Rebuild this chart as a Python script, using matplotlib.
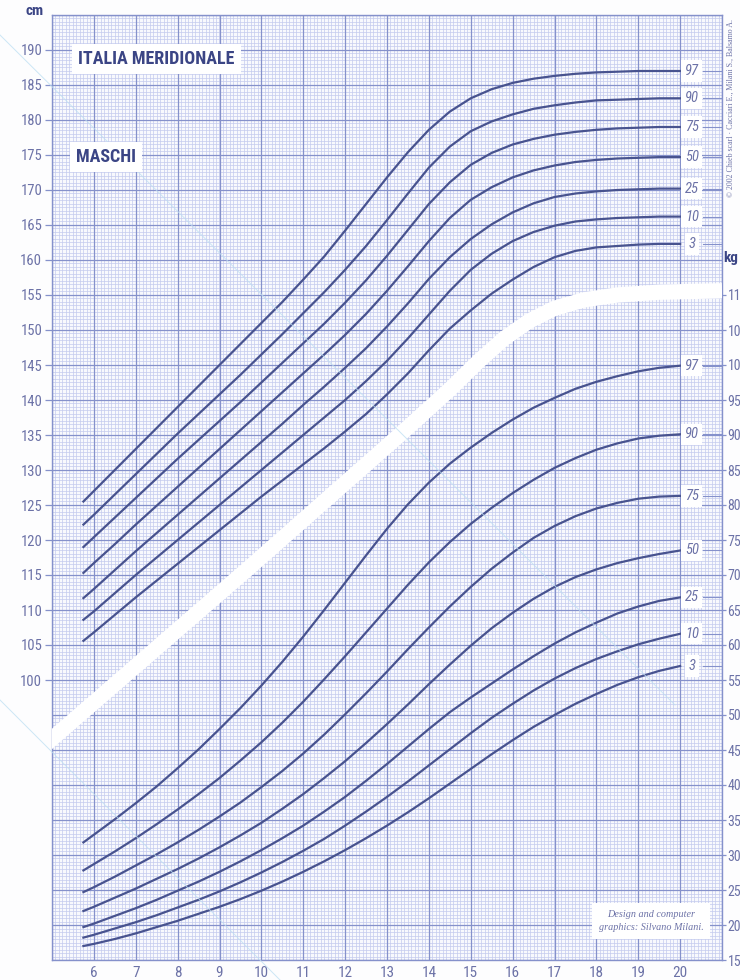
import numpy as np
import matplotlib
matplotlib.use("Agg")
import matplotlib.pyplot as plt
from matplotlib import font_manager
from matplotlib.lines import Line2D

# ages (years) at which the percentile curves are given
ages = [5.75] + [6 + 0.5 * i for i in range(29)]
percentiles = ["3", "10", "25", "50", "75", "90", "97"]

# stature, cm
height_p97 = [125.5, 127.0, 130.0, 133.0, 136.0, 139.0, 142.0, 145.0, 148.0, 151.0, 154.0, 157.2, 160.5, 164.2, 168.0,
              171.8, 175.4, 178.6, 181.2, 183.1, 184.4, 185.3, 185.9, 186.3, 186.6, 186.8, 186.9, 187.0, 187.0, 187.0]
height_p90 = [122.2, 123.6, 126.5, 129.4, 132.3, 135.2, 138.0, 140.8, 143.6, 146.5, 149.4, 152.4, 155.4, 158.6, 162.0,
              165.7, 169.5, 173.2, 176.2, 178.4, 179.8, 180.8, 181.6, 182.1, 182.5, 182.8, 182.9, 183.0, 183.1, 183.1]
height_p75 = [119.0, 120.4, 123.2, 126.0, 128.8, 131.6, 134.3, 137.0, 139.7, 142.5, 145.3, 148.1, 150.9, 153.9, 157.1,
              160.6, 164.3, 168.0, 171.1, 173.6, 175.3, 176.5, 177.3, 177.9, 178.3, 178.6, 178.8, 178.9, 179.0, 179.0]
height_p50 = [115.3, 116.7, 119.4, 122.2, 124.9, 127.6, 130.3, 133.0, 135.7, 138.4, 141.1, 143.8, 146.5, 149.3, 152.3,
              155.6, 159.1, 162.7, 166.0, 168.6, 170.4, 171.8, 172.8, 173.5, 174.0, 174.3, 174.5, 174.6, 174.7, 174.7]
height_p25 = [111.7, 113.0, 115.7, 118.4, 121.0, 123.6, 126.2, 128.8, 131.4, 134.0, 136.6, 139.3, 141.9, 144.6, 147.4,
              150.5, 153.8, 157.3, 160.4, 163.0, 165.1, 166.8, 168.1, 169.0, 169.5, 169.8, 170.0, 170.1, 170.2, 170.2]
height_p10 = [108.6, 109.8, 112.4, 115.0, 117.5, 120.0, 122.5, 125.0, 127.5, 130.0, 132.5, 135.0, 137.5, 140.0, 142.7,
              145.6, 148.8, 152.2, 155.6, 158.6, 160.9, 162.7, 164.0, 164.9, 165.5, 165.8, 166.0, 166.1, 166.2, 166.2]
height_p3 = [105.6, 106.8, 109.3, 111.8, 114.2, 116.6, 119.0, 121.4, 123.8, 126.2, 128.5, 130.8, 133.1, 135.5, 138.0,
             140.8, 143.8, 147.1, 150.2, 152.8, 155.2, 157.2, 159.0, 160.4, 161.3, 161.8, 162.0, 162.2, 162.3, 162.3]

# weight, kg
weight_p97 = [31.8, 32.9, 35.1, 37.4, 39.8, 42.4, 45.1, 48.0, 51.0, 54.2, 57.6, 61.2, 65.0, 68.9, 72.8,
              76.6, 80.1, 83.2, 85.9, 88.2, 90.3, 92.2, 93.9, 95.3, 96.6, 97.6, 98.4, 99.1, 99.6, 99.9]
weight_p90 = [27.8, 28.7, 30.5, 32.4, 34.4, 36.5, 38.7, 41.0, 43.5, 46.1, 48.9, 51.9, 55.1, 58.4, 61.8,
              65.2, 68.6, 71.8, 74.7, 77.3, 79.6, 81.7, 83.6, 85.3, 86.7, 87.9, 88.8, 89.5, 89.9, 90.1]
weight_p75 = [24.7, 25.4, 26.9, 28.5, 30.1, 31.8, 33.6, 35.5, 37.5, 39.7, 42.0, 44.5, 47.2, 50.1, 53.1,
              56.2, 59.4, 62.5, 65.5, 68.3, 70.9, 73.2, 75.3, 77.0, 78.4, 79.5, 80.3, 80.9, 81.2, 81.3]
weight_p50 = [22.0, 22.6, 23.9, 25.2, 26.6, 28.0, 29.5, 31.1, 32.8, 34.6, 36.6, 38.7, 41.0, 43.4, 46.0,
              48.7, 51.5, 54.4, 57.2, 59.9, 62.4, 64.6, 66.6, 68.3, 69.7, 70.8, 71.7, 72.4, 73.0, 73.5]
weight_p25 = [19.7, 20.2, 21.3, 22.4, 23.6, 24.9, 26.2, 27.6, 29.1, 30.7, 32.4, 34.2, 36.2, 38.3, 40.6,
              43.0, 45.5, 48.0, 50.4, 52.5, 54.5, 56.5, 58.4, 60.2, 61.8, 63.2, 64.5, 65.5, 66.3, 66.8]
weight_p10 = [18.2, 18.6, 19.5, 20.4, 21.4, 22.5, 23.6, 24.8, 26.1, 27.5, 29.0, 30.6, 32.3, 34.2, 36.2,
              38.3, 40.5, 42.8, 45.1, 47.4, 49.6, 51.6, 53.5, 55.2, 56.7, 58.0, 59.1, 60.1, 60.9, 61.6]
weight_p3 = [17.0, 17.3, 18.0, 18.8, 19.7, 20.6, 21.6, 22.6, 23.7, 24.9, 26.2, 27.6, 29.1, 30.7, 32.4,
             34.2, 36.1, 38.1, 40.2, 42.3, 44.4, 46.4, 48.3, 50.0, 51.6, 53.0, 54.3, 55.4, 56.3, 57.0]

age_ticks = list(range(6, 21))
height_ticks = list(range(100, 195, 5))
weight_ticks = list(range(15, 115, 5))

# white ribbon separating the stature and weight sections (age, cm)
band_age = [4.8, 5.0, 9.7, 13.3, 14.5, 15.2, 15.8, 16.4, 17.0, 17.7, 18.5, 19.5, 21.0]
band_cm = [90.5, 91.6, 116.0, 135.0, 141.5, 145.6, 148.8, 151.3, 153.1, 154.3, 155.0, 155.4, 155.6]

heights = [height_p3, height_p10, height_p25, height_p50, height_p75, height_p90, height_p97]
weights = [weight_p3, weight_p10, weight_p25, weight_p50, weight_p75, weight_p90, weight_p97]


def narrow_font():
    """Pick a condensed sans if one is around, else plain Liberation Sans."""
    fonts = font_manager.fontManager.ttflist
    names = {f.name for f in fonts}
    for fam in ["Liberation Sans Narrow", "Roboto Condensed", "Arial Narrow", "Open Sans Condensed"]:
        if fam in names:
            return fam, "normal", True
    for fam in ["Noto Sans", "DejaVu Sans", "Roboto", "Open Sans"]:
        if any(f.name == fam and "condensed" in str(f.stretch) for f in fonts):
            return fam, "condensed", True
    return "Liberation Sans", "normal", False


SANS, STRETCH, CONDENSED = narrow_font()
SERIF = "Liberation Serif"

CURVE = "#48538f"
MAJOR = "#8591cb"
MINOR = "#c4cbee"
TXT = "#6c72a7"
DARK = "#3b4585"
PAPER = "#fdfdfe"

W, H = 740, 980
fig = plt.figure(figsize=(W / 100, H / 100), dpi=100, facecolor=PAPER)
ax = fig.add_axes([52 / W, 20 / H, 670 / W, 945 / H])
ax.set_xlim(5, 21)
ax.set_ylim(60, 195)
ax.set_facecolor("#f8f9fd")

# graph paper: monthly / half-centimetre lines under year / 5 cm lines
ax.vlines(np.arange(5, 21.001, 1 / 12), 60, 195, color=MINOR, lw=0.5, zorder=1)
ax.hlines(np.arange(60, 195.01, 0.5), 5, 21, color=MINOR, lw=0.5, zorder=1)
ax.vlines(range(5, 22), 60, 195, color=MAJOR, lw=0.9, zorder=1.5)
ax.hlines(range(60, 196, 5), 5, 21, color=MAJOR, lw=0.9, zorder=1.5)
for s in ax.spines.values():
    s.set_color(MAJOR)
    s.set_linewidth(1.0)

ax.plot(band_age, band_cm, color="white", lw=11, solid_capstyle="butt", zorder=3)

tick_font = dict(family=SANS, fontstretch=STRETCH, color=TXT)
ax.set_xticks(age_ticks)
ax.set_xticklabels([str(a) for a in age_ticks], fontsize=11, **tick_font)
ax.tick_params(axis="x", length=0, pad=4)
ax.set_yticks(height_ticks)
ax.set_yticklabels([str(v) for v in height_ticks], fontsize=10.5, **tick_font)
ax.tick_params(axis="y", length=5, width=0.9, color=MAJOR, pad=2)

ax2 = ax.twinx()
ax2.set_ylim(15, 150)
ax2.set_yticks(weight_ticks)
ax2.set_yticklabels([str(v) for v in weight_ticks], fontsize=10 if CONDENSED else 9.6, **tick_font)
ax2.tick_params(axis="y", length=3, width=0.9, color=MAJOR, pad=1)
for s in ax2.spines.values():
    s.set_visible(False)

label_kw = dict(family=SANS, fontstretch=STRETCH, style="italic", fontsize=10.5, color=TXT,
                ha="center", va="center", zorder=6,
                bbox=dict(boxstyle="square,pad=0.25", facecolor="white", edgecolor="none"))

for p, h in zip(percentiles, heights):
    ax.plot(ages, h, color=CURVE, lw=1.6, zorder=5, solid_joinstyle="round")
    ax.plot([20.55, 21], [h[-1], h[-1]], color=MAJOR, lw=0.8, zorder=5)
    ax.text(20.28, h[-1], p, **label_kw)

for p, w in zip(percentiles, weights):
    ax2.plot(ages, w, color=CURVE, lw=1.6, zorder=5, solid_joinstyle="round")
    ax2.plot([20.55, 21], [w[-1], w[-1]], color=MAJOR, lw=0.8, zorder=5)
    ax2.text(20.28, w[-1], p, **label_kw)

title_size = 13 if CONDENSED else 11
box = dict(boxstyle="square,pad=0.35", facecolor="white", edgecolor="none")
fig.text(78 / W, 1 - 59 / H, "ITALIA MERIDIONALE", family=SANS, fontstretch=STRETCH, weight="bold",
         fontsize=title_size, color=DARK, ha="left", va="center", bbox=box)
fig.text(76 / W, 1 - 157 / H, "MASCHI", family=SANS, fontstretch=STRETCH, weight="bold",
         fontsize=title_size, color=DARK, ha="left", va="center", bbox=box)
fig.text(44 / W, 1 - 11 / H, "cm", family=SANS, weight="bold", fontsize=11, color=DARK,
         ha="right", va="center")
fig.text(723 / W, 1 - 258 / H, "kg", family=SANS, weight="bold", fontsize=11, color=DARK,
         ha="left", va="center")

fig.text(731 / W, 1 - 108 / H, "\u00a9 2002 Chieb scarl \u00b7 Cacciari E., Milani S., Balsamo A.",
         family=SERIF, fontsize=5.7, color=TXT, rotation=90, ha="center", va="center")
fig.text(651 / W, 1 - 921 / H, "Design and computer\ngraphics: Silvano Milani.", family=SERIF,
         style="italic", fontsize=7.3, color=TXT, ha="center", va="center", linespacing=1.6,
         bbox=dict(boxstyle="square,pad=0.7", facecolor="white", edgecolor="none"), zorder=4)

# faint diagonal watermark rules
for (x0, y0), (x1, y1) in [((0, 35), (675, 705)), ((0, 700), (280, 980))]:
    fig.add_artist(Line2D([x0 / W, x1 / W], [1 - y0 / H, 1 - y1 / H], transform=fig.transFigure,
                          color="#bfe0f3", lw=0.7, alpha=0.8, zorder=2))

fig.savefig("out.png", dpi=100, facecolor=PAPER)
